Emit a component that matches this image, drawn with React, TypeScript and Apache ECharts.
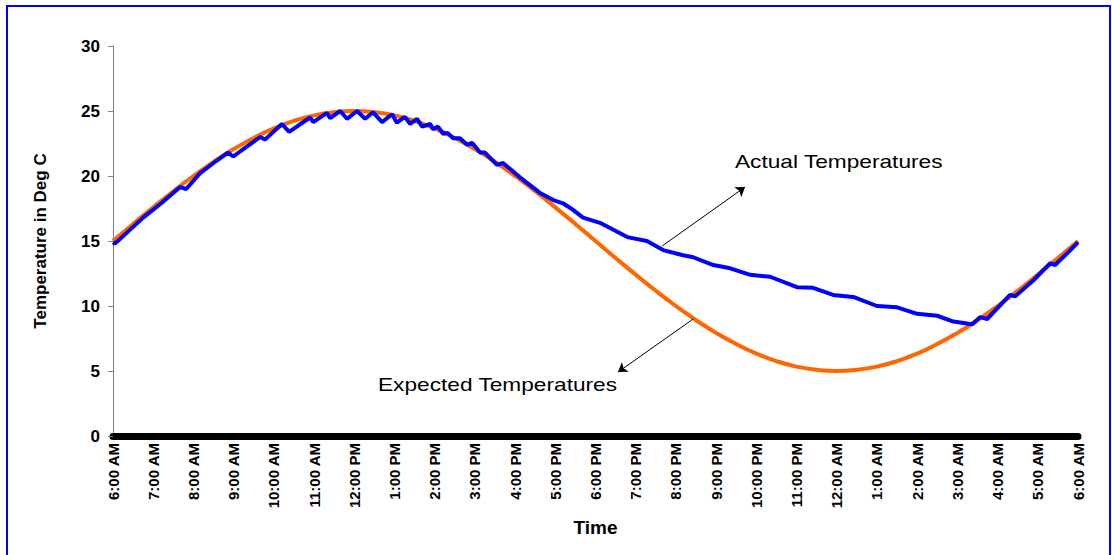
import React, { useEffect, useRef } from "react";
import * as echarts from "echarts";

const timeLabels = [
  "6:00 AM", "7:00 AM", "8:00 AM", "9:00 AM", "10:00 AM", "11:00 AM",
  "12:00 PM", "1:00 PM", "2:00 PM", "3:00 PM", "4:00 PM", "5:00 PM",
  "6:00 PM", "7:00 PM", "8:00 PM", "9:00 PM", "10:00 PM", "11:00 PM",
  "12:00 AM", "1:00 AM", "2:00 AM", "3:00 AM", "4:00 AM", "5:00 AM", "6:00 AM",
];

// Expected temperatures, every half hour from 6:00 AM to 6:00 AM
const expectedTemps = [
  15, 16.31, 17.59, 18.83, 20, 21.09, 22.07, 22.93, 23.66, 24.24, 24.66, 24.91,
  25, 24.91, 24.66, 24.24, 23.66, 22.93, 22.07, 21.09, 20, 18.83, 17.59, 16.31,
  15, 13.69, 12.41, 11.17, 10, 8.91, 7.93, 7.07, 6.34, 5.76, 5.34, 5.09,
  5, 5.09, 5.34, 5.76, 6.34, 7.07, 7.93, 8.91, 10, 11.17, 12.41, 13.69, 15,
];

// Actual temperatures: [hours after 6:00 AM, deg C]
const actualTemps: [number, number][] = [
  [0, 14.9], [0.05, 14.8], [0.4, 15.8], [0.75, 16.8], [1.2, 17.9], [1.67, 19.15], [1.82, 19.0],
  [2.16, 20.2], [2.5, 21.0], [2.86, 21.8], [2.99, 21.5], [3.3, 22.2], [3.66, 23.0], [3.78, 22.8],
  [4.2, 24.0], [4.38, 23.4], [4.9, 24.5], [4.98, 24.15], [5.32, 24.85], [5.4, 24.45], [5.65, 25.0],
  [5.82, 24.4], [6.07, 25.0], [6.27, 24.4], [6.47, 24.9], [6.69, 24.15], [6.94, 24.75], [7.06, 24.1],
  [7.26, 24.55], [7.39, 24.0], [7.56, 24.4], [7.69, 23.8], [7.89, 24.0], [7.96, 23.6], [8.08, 23.8],
  [8.21, 23.25], [8.33, 23.3], [8.46, 22.9], [8.63, 22.9], [8.81, 22.4], [8.93, 22.55], [9.13, 21.8],
  [9.25, 21.8], [9.55, 20.85], [9.7, 21.0], [10.12, 19.9], [10.62, 18.7], [10.95, 18.15], [11.19, 17.9],
  [11.44, 17.4], [11.69, 16.8], [12.11, 16.4], [12.79, 15.3], [13.28, 15.0], [13.68, 14.3], [14.18, 13.9],
  [14.43, 13.75], [14.93, 13.15], [15.35, 12.9], [15.85, 12.4], [16.34, 12.25], [17.01, 11.45],
  [17.41, 11.4], [17.91, 10.85], [18.41, 10.7], [19.0, 10.0], [19.5, 9.9], [20.0, 9.4], [20.5, 9.25],
  [20.9, 8.8], [21.37, 8.6], [21.57, 9.15], [21.74, 9.0], [22.31, 10.85], [22.44, 10.75], [22.9, 12.0],
  [23.31, 13.3], [23.43, 13.15], [23.81, 14.3], [24, 14.9],
];

// Annotation arrows: [start, end] in [hours, deg C]
const actualArrow = [[13.66, 14.62], [15.72, 19.15]];
const expectedArrow = [[14.43, 9.0], [12.56, 4.92]];

const yTicks = [0, 5, 10, 15, 20, 25, 30];

export default function App() {
  const ref = useRef<HTMLDivElement>(null);

  useEffect(() => {
    if (!ref.current) return;
    const chart = echarts.init(ref.current, null, { renderer: "svg" });
    const font = "Arial, 'Liberation Sans', sans-serif";
    chart.setOption({
      animation: false,
      backgroundColor: "#ffffff",
      grid: { left: 113, right: 34, top: 46, bottom: 119 },
      xAxis: {
        type: "value",
        min: 0,
        max: 24,
        interval: 1,
        name: "Time",
        nameLocation: "middle",
        nameGap: 82,
        nameTextStyle: { fontFamily: font, fontWeight: "bold", fontSize: 19, color: "#000" },
        axisLine: { onZero: false, lineStyle: { color: "#000", width: 7, cap: "round" } },
        axisTick: { show: false },
        splitLine: { show: false },
        axisLabel: {
          rotate: 90,
          margin: 7,
          fontFamily: font,
          fontWeight: "bold",
          fontSize: 15,
          color: "#000",
          formatter: (v: number) => timeLabels[Math.round(v)] ?? "",
        },
      },
      yAxis: {
        type: "value",
        min: yTicks[0],
        max: yTicks[yTicks.length - 1],
        interval: 5,
        name: "Temperature in Deg C",
        nameLocation: "middle",
        nameGap: 64,
        nameTextStyle: { fontFamily: font, fontWeight: "bold", fontSize: 17, color: "#000" },
        axisLine: { show: true, lineStyle: { color: "#808080", width: 1 } },
        axisTick: { show: true, length: 5, lineStyle: { color: "#808080" } },
        splitLine: { show: false },
        axisLabel: {
          margin: 13,
          fontFamily: font,
          fontWeight: "bold",
          fontSize: 17,
          color: "#000",
        },
      },
      series: [
        {
          name: "Expected Temperatures",
          type: "line",
          data: expectedTemps.map((v, i) => [i / 2, v]),
          smooth: true,
          showSymbol: false,
          lineStyle: { color: "#FF6600", width: 4 },
          z: 2,
        },
        {
          name: "Actual Temperatures",
          type: "line",
          data: actualTemps,
          showSymbol: false,
          lineStyle: { color: "#0000FF", width: 4 },
          z: 3,
          markLine: {
            silent: true,
            symbol: ["none", "arrow"],
            symbolSize: 9,
            label: { show: false },
            lineStyle: { color: "#000", width: 1, type: "solid" },
            data: [
              [{ coord: actualArrow[0] }, { coord: actualArrow[1] }],
              [{ coord: expectedArrow[0] }, { coord: expectedArrow[1] }],
            ],
          },
        },
      ],
      graphic: [
        {
          type: "rect",
          shape: { x: 7, y: 6, width: 1103, height: 600 },
          style: { fill: "none", stroke: "#0000FF", lineWidth: 2 },
          silent: true,
        },
        {
          type: "text",
          x: 735,
          y: 161,
          scaleX: 1.26,
          style: {
            text: "Actual Temperatures",
            font: `18px ${font}`,
            fill: "#000",
            verticalAlign: "middle",
          },
        },
        {
          type: "text",
          x: 378,
          y: 384,
          scaleX: 1.26,
          style: {
            text: "Expected Temperatures",
            font: `18px ${font}`,
            fill: "#000",
            verticalAlign: "middle",
          },
        },
      ],
    });
    return () => chart.dispose();
  }, []);

  return (
    <div
      ref={ref}
      style={{ position: "fixed", left: 0, top: 0, width: 1112, height: 555 }}
    />
  );
}
